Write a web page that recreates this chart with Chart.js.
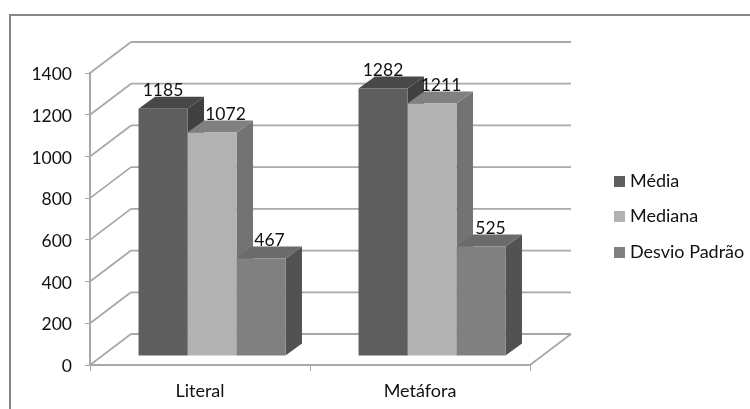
<!DOCTYPE html>
<html>
<head>
<meta charset="utf-8">
<style>
  html, body { margin: 0; padding: 0; background: #fff; }
  #wrap { position: relative; width: 750px; height: 409px; }
</style>
<script src="https://cdn.jsdelivr.net/npm/chart.js@4"></script>
</head>
<body>
<div id="wrap"><canvas id="chart" width="750" height="409"></canvas></div>
<script>
const categories = ['Literal', 'Metáfora'];
const media = [1185, 1282];
const mediana = [1072, 1211];
const desvioPadrao = [467, 525];
const yTicks = [0, 200, 400, 600, 800, 1000, 1200, 1400];

const FONT = 'Lato, sans-serif';
const TEXT = '#111111';
const GRID = '#a8a8a8';

// fake 3d: how far the walls and the bars go back on screen
const WALL = { dx: 41, dy: -31 };
const BAR_SHIFT = { x: 12, y: -9 };
const BAR_DEPTH = { dx: 16.5, dy: -12 };

// sideways nudge of each value label, per category
const labelNudge = [[0, 0], [13.5, 9], [8.5, 9.5]];

const faces = [
    { front: '#5e5e5e', top: '#484848', side: '#404040' },
    { front: '#b2b2b2', top: '#808080', side: '#737373' },
    { front: '#808080', top: '#6b6b6b', side: '#525252' }
];

// square legend key; as an image the gap to the text can be tighter than the default
function swatch(color) {
    const c = document.createElement('canvas');
    c.width = c.height = 11;
    const g = c.getContext('2d');
    g.fillStyle = color;
    g.fillRect(0, 0, 11, 11);
    return c;
}

function poly(ctx, pts, color) {
    ctx.fillStyle = color;
    ctx.beginPath();
    pts.forEach((p, i) => i ? ctx.lineTo(p[0], p[1]) : ctx.moveTo(p[0], p[1]));
    ctx.closePath();
    ctx.fill();
}

function line(ctx, x1, y1, x2, y2) {
    ctx.beginPath();
    ctx.moveTo(x1, y1);
    ctx.lineTo(x2, y2);
    ctx.stroke();
}

const frame3d = {
    id: 'frame3d',
    afterLayout(chart) {
        // legend sits in the free space right of the plot
        const lg = chart.legend;
        lg.left = 600.5;
        lg.top = 154.5;
        lg.right = lg.left + lg.width + 60;
        lg.bottom = lg.top + lg.height;
    },
    beforeDraw(chart) {
        const ctx = chart.ctx;
        ctx.save();
        ctx.strokeStyle = '#868686';
        ctx.lineWidth = 2;
        ctx.beginPath();
        ctx.moveTo(10, chart.height);
        ctx.lineTo(10, 15);
        ctx.lineTo(chart.width, 15);
        ctx.stroke();
        ctx.restore();
    },
    beforeDatasetsDraw(chart) {
        const ctx = chart.ctx;
        const { left, right, bottom } = chart.chartArea;
        const y = chart.scales.y;
        ctx.save();
        ctx.strokeStyle = GRID;
        ctx.lineWidth = 1.8;
        yTicks.forEach(v => {
            const py = y.getPixelForValue(v);
            line(ctx, left, py, left + WALL.dx, py + WALL.dy);
            line(ctx, left + WALL.dx, py + WALL.dy, right + WALL.dx, py + WALL.dy);
        });
        line(ctx, right, bottom, right + WALL.dx, bottom + WALL.dy);
        ctx.restore();

        // side and top faces left to right, the library then paints the fronts over them
        ctx.save();
        ctx.translate(BAR_SHIFT.x, BAR_SHIFT.y);
        chart.data.datasets.forEach((ds, i) => {
            const f = faces[i];
            const d = BAR_DEPTH;
            chart.getDatasetMeta(i).data.forEach(bar => {
                const x0 = bar.x - bar.width / 2;
                const x1 = bar.x + bar.width / 2;
                poly(ctx, [[x1, bar.y], [x1 + d.dx, bar.y + d.dy], [x1 + d.dx, bar.base + d.dy], [x1, bar.base]], f.side);
                poly(ctx, [[x0, bar.y], [x0 + d.dx, bar.y + d.dy], [x1 + d.dx, bar.y + d.dy], [x1, bar.y]], f.top);
            });
        });
    },
    afterDatasetsDraw(chart) {
        const ctx = chart.ctx;
        ctx.restore();
        ctx.save();
        ctx.font = '17.5px ' + FONT;
        ctx.fillStyle = TEXT;
        ctx.textAlign = 'center';
        ctx.textBaseline = 'middle';
        chart.data.datasets.forEach((ds, i) => {
            chart.getDatasetMeta(i).data.forEach((bar, j) => {
                ctx.fillText(ds.data[j], bar.x + BAR_SHIFT.x + labelNudge[i][j], bar.y + BAR_SHIFT.y - 18.5);
            });
        });
        ctx.restore();
    }
};

new Chart(document.getElementById('chart'), {
    type: 'bar',
    data: {
        labels: categories,
        datasets: [
            { label: 'Média', data: media, backgroundColor: faces[0].front, pointStyle: swatch(faces[0].front) },
            { label: 'Mediana', data: mediana, backgroundColor: faces[1].front, pointStyle: swatch(faces[1].front) },
            { label: 'Desvio Padrão', data: desvioPadrao, backgroundColor: faces[2].front, pointStyle: swatch(faces[2].front) }
        ]
    },
    plugins: [frame3d],
    options: {
        responsive: false,
        animation: false,
        layout: { padding: { top: 73, right: 220, left: 0, bottom: 0 } },
        datasets: { bar: { categoryPercentage: 0.668, barPercentage: 1 } },
        plugins: {
            tooltip: { enabled: false },
            legend: {
                position: 'chartArea',
                align: 'start',
                labels: {
                    usePointStyle: true,
                    boxWidth: 3,
                    boxHeight: 11,
                    padding: 17.5,
                    color: TEXT,
                    font: { family: FONT, size: 18 }
                }
            }
        },
        scales: {
            x: {
                afterFit(s) { s.height = 44; },
                grid: { drawOnChartArea: false, color: GRID, tickLength: 6 },
                border: { color: GRID, width: 2 },
                ticks: { color: TEXT, padding: 9, font: { family: FONT, size: 18 } }
            },
            y: {
                min: 0,
                max: 1400,
                afterFit(s) { s.width = 90; },
                afterBuildTicks(s) { s.ticks = yTicks.map(value => ({ value })); },
                grid: { drawOnChartArea: false, color: GRID, tickLength: 5 },
                border: { color: GRID, width: 2 },
                ticks: { color: TEXT, padding: 13, labelOffset: 1.5, font: { family: FONT, size: 17.5 }, callback: v => String(v) }
            }
        }
    }
});
</script>
</body>
</html>
